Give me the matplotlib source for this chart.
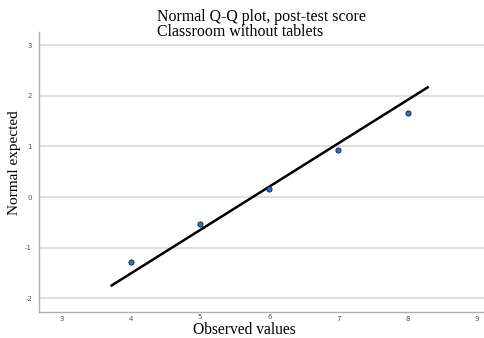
import matplotlib
matplotlib.use("Agg")
import matplotlib.pyplot as plt
import matplotlib.transforms as mtransforms
import numpy as np

observed = [4, 5, 6, 7, 8]
expected = [-1.29, -0.54, 0.16, 0.93, 1.67]
line_x = [3.72, 8.29]
line_mean = 5.76
line_sd = 1.168
x_ticks = [3, 4, 5, 6, 7, 8, 9]
y_ticks = [-2, -1, 0, 1, 2, 3]

fig = plt.figure(figsize=(4.85, 3.38), dpi=100)
ax = fig.add_axes([39/485, 26/338, 1 - 39/485, (312-32)/338])

ax.set_xlim(2.67, 9.12)
ax.set_ylim(-2.27, 3.26)

for yt in y_ticks:
    ax.axhline(yt, color="#d9d9d9", lw=1.2, zorder=0)

lx = np.array(line_x)
ly = (lx - line_mean) / line_sd
ax.plot(lx, ly, color="black", lw=1.8, zorder=2)
ax.scatter(observed, expected, s=14, facecolor="#1f78c8", edgecolor="#1a1a40",
           linewidth=0.6, zorder=3)

ax.set_xticks(x_ticks)
ax.set_yticks(y_ticks)
ax.set_xticklabels([str(v) for v in x_ticks])
ax.set_yticklabels([str(v) for v in y_ticks])
ax.tick_params(length=0, labelsize=5, labelcolor="#555555", pad=5)
ax.tick_params(axis="x", pad=3)
# raise labels under the axis title slightly, as in the reference
for lab in ax.get_xticklabels():
    if lab.get_text() in ("5", "6"):
        lab.set_transform(lab.get_transform() +
                          mtransforms.ScaledTranslation(0, 2/100, fig.dpi_scale_trans))
for s in ["top", "right"]:
    ax.spines[s].set_visible(False)
for s in ["left", "bottom"]:
    ax.spines[s].set_color("#b0b0b0")
    ax.spines[s].set_linewidth(1.0)

serif = ["Liberation Serif", "DejaVu Serif"]
fig.text(157/485, 1 - 21/338, "Normal Q-Q plot, post-test score", family=serif,
         fontsize=11.4, ha="left", va="baseline")
fig.text(157/485, 1 - 36/338, "Classroom without tablets", family=serif,
         fontsize=11.4, ha="left", va="baseline")
fig.text(244/485, 1 - 334/338, "Observed values", family=serif,
         fontsize=11.2, ha="center", va="baseline")
fig.text(15/485, 1 - 163/338, "Normal expected", family=serif,
         fontsize=11, ha="center", va="center", rotation=90)

fig.savefig("out.png", dpi=100)
